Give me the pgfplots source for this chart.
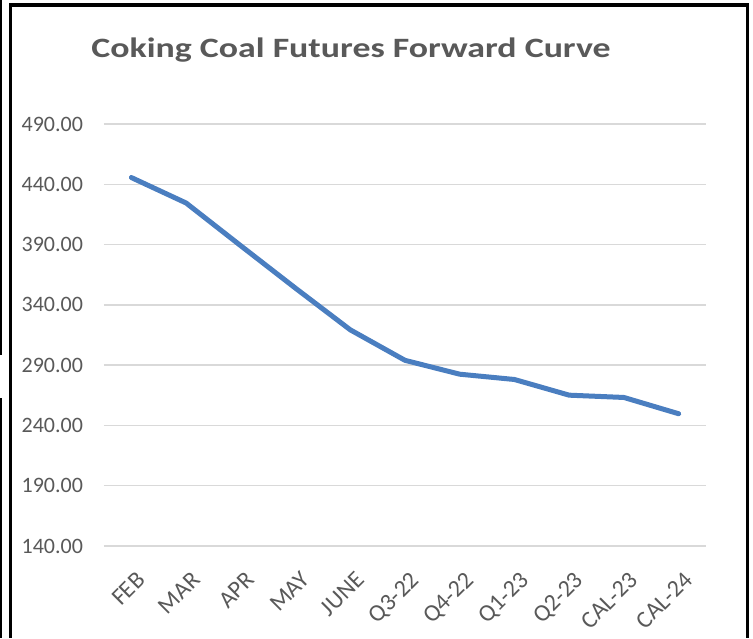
\documentclass[border=0pt]{standalone}
\usepackage{pgfplots}
\pgfplotsset{compat=1.18}
\usepackage{fontspec}
\setmainfont{Carlito}
\definecolor{txtgray}{HTML}{595959}
\definecolor{gridgray}{HTML}{D9D9D9}
\definecolor{lineblue}{RGB}{74,126,192}
\begin{document}
\begin{tikzpicture}
\useasboundingbox (0,0) rectangle (376.5pt,319pt);
\fill[white] (0,0) rectangle (376.5pt,319pt);
% frame
\draw[line width=1.75pt, black] (5.25pt,0) -- (5.25pt,316.5pt) -- (373.75pt,316.5pt) -- (373.75pt,0);
\draw[line width=0.75pt, black] (0.375pt,319pt) -- (0.375pt,141.5pt);
\draw[line width=0.75pt, black] (0.375pt,120pt) -- (0.375pt,0pt);
\begin{axis}[
  at={(52pt,46pt)}, anchor=south west,
  scale only axis, width=301pt, height=211pt,
  xmin=-0.5, xmax=10.5, ymin=140, ymax=490,
  axis line style={draw=none},
  major tick length=0pt,
  ytick={140,190,...,490},
  ymajorgrids, grid style={gridgray, line width=0.75pt},
  xtick={0,...,10},
  xticklabels={FEB,MAR,APR,MAY,JUNE,Q3-22,Q4-22,Q1-23,Q2-23,CAL-23,CAL-24},
  xticklabel style={rotate=45, anchor=north east, font=\fontsize{12}{12}\selectfont, text=txtgray, xshift=-7pt, yshift=-10pt, inner sep=0pt},
  yticklabel style={font=\fontsize{11}{12}\selectfont, text=txtgray, xshift=-7pt},
  /pgf/number format/assume math mode=true,
  /pgf/number format/.cd, fixed, fixed zerofill, precision=2, use period, 1000 sep={},
]
\addplot[lineblue, line width=2.5pt, line join=round, line cap=round] coordinates {
(0,445.6) (1,424.5) (2,389) (3,353.8) (4,319.3) (5,294) (6,282.5) (7,278.1) (8,265.1) (9,263.2) (10,249.7)
};
\end{axis}
\node[font=\bfseries\fontsize{14}{16}\selectfont, text=txtgray, xscale=1.28] at (175.5pt,294pt) {Coking Coal Futures Forward Curve};
\end{tikzpicture}
\end{document}
